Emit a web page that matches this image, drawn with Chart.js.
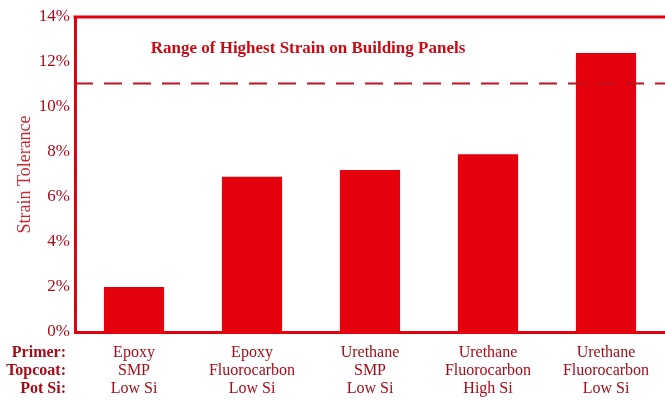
<!DOCTYPE html>
<html>
<head>
<meta charset="utf-8">
<script src="https://cdn.jsdelivr.net/npm/chart.js@4.4.1/dist/chart.umd.min.js"></script>
<style>
  body { margin: 0; background: #fff; }
  #wrap { width: 665px; height: 400px; }
</style>
</head>
<body>
<div id="wrap"><canvas id="strainChart"></canvas></div>
<script>
const primers = ['Epoxy', 'Epoxy', 'Urethane', 'Urethane', 'Urethane'];
const topcoats = ['SMP', 'Fluorocarbon', 'SMP', 'Fluorocarbon', 'Fluorocarbon'];
const potSi = ['Low Si', 'Low Si', 'Low Si', 'High Si', 'Low Si'];
const rowHeaders = ['Primer:', 'Topcoat:', 'Pot Si:'];
const strainTolerance = [2.0, 6.9, 7.2, 7.9, 12.4];
const highestStrain = 11.05;
const yMax = 14;
const yStep = 2;

const red = 'rgb(228, 0, 12)';
const darkRed = 'rgb(165, 12, 25)';
const serif = '"Liberation Serif", "DejaVu Serif", serif';
const lineH = 18;

const labels = primers.map((p, i) => [p, topcoats[i], potSi[i]]);

const extras = {
    id: 'extras',
    afterDraw(chart) {
        const ctx = chart.ctx;
        const area = chart.chartArea;
        const y = chart.scales.y;
        const x = chart.scales.x;
        ctx.save();

        // top border
        ctx.strokeStyle = red;
        ctx.lineWidth = 3;
        ctx.beginPath();
        ctx.moveTo(area.left - 1.5, area.top);
        ctx.lineTo(area.right, area.top);
        ctx.stroke();

        // dashed line for highest strain
        const yy = y.getPixelForValue(highestStrain);
        ctx.strokeStyle = 'rgb(190, 20, 35)';
        ctx.lineWidth = 2;
        ctx.setLineDash([18, 11]);
        ctx.beginPath();
        ctx.moveTo(area.left, yy);
        ctx.lineTo(area.right, yy);
        ctx.stroke();
        ctx.setLineDash([]);

        // title inside the plot
        ctx.fillStyle = 'rgb(200, 10, 20)';
        ctx.font = 'bold 17px ' + serif;
        ctx.textAlign = 'center';
        ctx.textBaseline = 'middle';
        ctx.fillText('Range of Highest Strain on Building Panels', 308, y.getPixelForValue(12.6));

        // row headers
        ctx.fillStyle = darkRed;
        ctx.font = 'bold 16px ' + serif;
        ctx.textAlign = 'right';
        rowHeaders.forEach((h, i) => {
            ctx.fillText(h, 66, x.top + 21 + i * lineH);
        });
        ctx.restore();
    }
};

new Chart(document.getElementById('strainChart'), {
    type: 'bar',
    data: {
        labels: labels,
        datasets: [{
            data: strainTolerance,
            backgroundColor: red,
            borderWidth: 0,
            barPercentage: 0.51,
            categoryPercentage: 1
        }]
    },
    options: {
        responsive: true,
        maintainAspectRatio: false,
        animation: false,
        layout: { padding: { top: 17, right: 0, left: 0, bottom: 0 } },
        plugins: {
            legend: { display: false },
            tooltip: { enabled: false }
        },
        scales: {
            x: {
                grid: { display: false },
                border: { color: red, width: 3 },
                ticks: {
                    color: darkRed,
                    font: { family: serif, size: 16, lineHeight: lineH / 16 },
                    padding: 4,
                    maxRotation: 0,
                    autoSkip: false
                },
                afterFit: s => { s.height = 68; }
            },
            y: {
                min: 0,
                max: yMax,
                grid: { display: false },
                border: { color: red, width: 3 },
                ticks: {
                    stepSize: yStep,
                    color: darkRed,
                    padding: -3,
                    font: { family: serif, size: 17 },
                    callback: v => v + '%'
                },
                title: {
                    display: true,
                    text: 'Strain Tolerance',
                    color: 'rgb(200, 40, 50)',
                    font: { family: serif, size: 18 },
                    padding: { top: 14, bottom: 0 }
                },
                afterFit: s => { s.width = 75; }
            }
        }
    },
    plugins: [extras]
});
</script>
</body>
</html>
